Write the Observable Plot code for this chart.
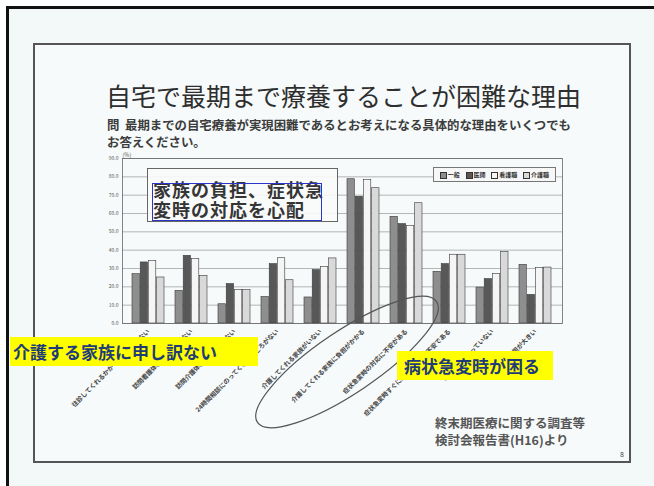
<!DOCTYPE html>
<html>
<head>
<meta charset="utf-8">
<script src="https://cdn.jsdelivr.net/npm/d3@7"></script>
<script src="https://cdn.jsdelivr.net/npm/@observablehq/plot@0.6"></script>
<style>
  html, body { margin: 0; padding: 0; background: #ffffff; }
  body { font-family: "Noto Sans CJK JP", "Noto Sans", sans-serif; }
  #page { position: relative; width: 654px; height: 486px; overflow: hidden; background: #ffffff; }
  #outer { position: absolute; left: 6px; top: 6px; width: 660px; height: 490px; border: 3px solid #111; background: #f3f8f8; box-sizing: border-box; }
  #inner { position: absolute; left: 33px; top: 43px; width: 598px; height: 420px; border: 2px solid #555; box-sizing: border-box; background: #f6fafa; }
  .abs { position: absolute; white-space: nowrap; }
  #title { left: 106px; top: 78px; font-size: 25px; color: #2e2e2e; line-height: 34px; }
  .q { left: 107px; font-size: 12.4px; color: #3c3c3c; font-weight: bold; line-height: 16px; height: 16px; }
  #q1 { top: 117px; }
  #q2 { top: 134px; }
  #chart { position: absolute; left: 0; top: 0; }
  #legend { left: 433px; top: 167px; width: 123px; height: 15px; border: 1px solid #777; background: #f7f7f7; box-sizing: border-box; font-size: 6px; font-weight: bold; color: #333; display: flex; align-items: center; justify-content: space-around; padding: 0 3px; }
  #legend span.sw { display: inline-block; width: 5px; height: 5px; border: 0.6px solid #333; margin-right: 1px; vertical-align: middle; }
  #note { left: 147px; top: 168px; width: 191px; height: 54px; border: 1.5px solid #666; background: rgba(250,250,250,0.9); box-sizing: border-box; }
  .nt { left: 153px; font-size: 18px; font-weight: bold; color: #353535; line-height: 19px; height: 19px; letter-spacing: 1px; }
  #nt1 { top: 180px; }
  #nt2 { top: 200px; }
  #blue { left: 152px; top: 183px; width: 170px; height: 38px; border: 1.5px solid #2a35c8; box-sizing: border-box; }
  .yellow { background: #ffff00; color: #1f3c78; font-weight: bold; font-size: 17px; box-sizing: border-box; line-height: 29px; }
  #y1 { left: 10px; top: 337px; width: 248px; height: 29px; padding-left: 3px; }
  #y2 { left: 397px; top: 351px; width: 156px; height: 29px; padding-left: 7px; }
  .src { left: 435px; font-size: 12.5px; font-weight: bold; color: #555; line-height: 16px; height: 16px; }
  #src1 { top: 415px; }
  #src2 { top: 432px; }
  #pg { left: 620px; top: 449px; font-size: 7px; color: #444; }
  #ell { position: absolute; left: 0; top: 0; }
</style>
</head>
<body>
<div id="page">
  <div id="outer"></div>
  <div id="inner"></div>
  <div class="abs" id="title">自宅で最期まで療養することが困難な理由</div>
  <div class="abs q" id="q1">問&nbsp;&nbsp;最期までの自宅療養が実現困難であるとお考えになる具体的な理由をいくつでも</div>
  <div class="abs q" id="q2">お答えください。</div>
  <div id="chart"></div>
  <div class="abs" id="legend"></div>
  <div class="abs" id="note"></div>
  <div class="abs nt" id="nt1">家族の負担、症状急</div>
  <div class="abs nt" id="nt2">変時の対応を心配</div>
  <div class="abs" id="blue"></div>
  <svg id="ell" width="654" height="486"></svg>
  <div class="abs yellow" id="y1">介護する家族に申し訳ない</div>
  <div class="abs yellow" id="y2">病状急変時が困る</div>
  <div class="abs src" id="src1">終末期医療に関する調査等</div>
  <div class="abs src" id="src2">検討会報告書(H16)より</div>
  <div class="abs" id="pg">8</div>
</div>
<script>
// ---- data ----
const categories = [
  "往診してくれるかかりつけ医がいない",
  "訪問看護体制が整っていない",
  "訪問介護体制が整っていない",
  "24時間相談にのってくれるところがない",
  "介護してくれる家族がいない",
  "介護してくれる家族に負担がかかる",
  "症状急変時の対応に不安がある",
  "症状急変時すぐに入院できるか不安である",
  "居住環境が整っていない",
  "経済的に負担が大きい"
];
const seriesNames = ["一般", "医師", "看護職", "介護職"];
const ippan  = [26.9, 17.8, 10.5, 14.5, 14.2, 78.7, 58.2, 28.2, 19.6, 32.0];
const ishi   = [33.3, 36.9, 21.5, 32.4, 29.1, 69.1, 54.2, 32.4, 24.2, 15.6];
const kango  = [34.2, 35.1, 18.2, 35.6, 30.9, 78.2, 53.3, 37.5, 26.9, 30.2];
const kaigo  = [25.1, 26.0, 18.2, 23.6, 35.5, 73.8, 65.6, 37.5, 39.1, 30.5];
const yTicks = [0, 10, 20, 30, 40, 50, 60, 70, 80, 90];

// ---- build ----
const seriesValues = [ippan, ishi, kango, kaigo];
const colors = ["#8e8e8e", "#585858", "#f5f5f5", "#d9d9d9"];
const rows = [];
seriesValues.forEach((vals, si) => vals.forEach((v, ci) => rows.push({cat: categories[ci], series: seriesNames[si], si, value: v})));

const W = 654, H = 486;
const mL = 122, mR = 92, mT = 158, mB = 163;
const padIn = 0.25, padOut = 0.14;
const step = (W - mL - mR) / (categories.length - padIn + 2 * padOut);
const bw = step * (1 - padIn);
const sub = bw / seriesNames.length;

const barMarks = seriesNames.map((s, i) => Plot.barY(rows.filter(d => d.si === i), {
  x: "cat", y: "value", fill: colors[i], stroke: "#3a3a3a", strokeWidth: 0.6,
  insetLeft: i * sub, insetRight: (seriesNames.length - 1 - i) * sub
}));

const chart = Plot.plot({
  width: W, height: H,
  marginLeft: mL, marginRight: mR, marginTop: mT, marginBottom: mB,
  style: {background: "transparent", fontFamily: "Noto Sans CJK JP, sans-serif", color: "#444"},
  x: {type: "band", domain: categories, paddingInner: padIn, paddingOuter: padOut, axis: null},
  y: {domain: [0, 90], axis: null},
  marks: [
    Plot.gridY(yTicks, {stroke: "#9a9a9a", strokeOpacity: 1, strokeWidth: 0.7}),
    ...barMarks,
    Plot.frame({stroke: "#666", strokeWidth: 0.8}),
    Plot.axisY(yTicks, {tickSize: 0, tickPadding: 4, fontSize: 5, tickFormat: d3.format(".1f"), label: null, fill: "#555"}),
    Plot.text(["(%)"], {frameAnchor: "top-left", dx: 0, dy: -5, fontSize: 5.5, fill: "#555", textAnchor: "start"}),
    Plot.axisX({tickSize: 0, tickPadding: 7, tickRotate: -45, fontSize: 6.3, fill: "#444", label: null, fontWeight: "bold"})
  ]
});
document.getElementById("chart").appendChild(chart);

// legend
const lg = document.getElementById("legend");
seriesNames.forEach((s, i) => {
  const it = document.createElement("span");
  it.innerHTML = `<span class="sw" style="background:${colors[i]}"></span>${s}`;
  lg.appendChild(it);
});

// ellipse annotation
const svg = d3.select("#ell");
svg.append("ellipse")
  .attr("cx", 347).attr("cy", 362).attr("rx", 108).attr("ry", 31)
  .attr("transform", "rotate(-34 347 362)")
  .attr("fill", "none").attr("stroke", "#555").attr("stroke-width", 1.2);
</script>
</body>
</html>
